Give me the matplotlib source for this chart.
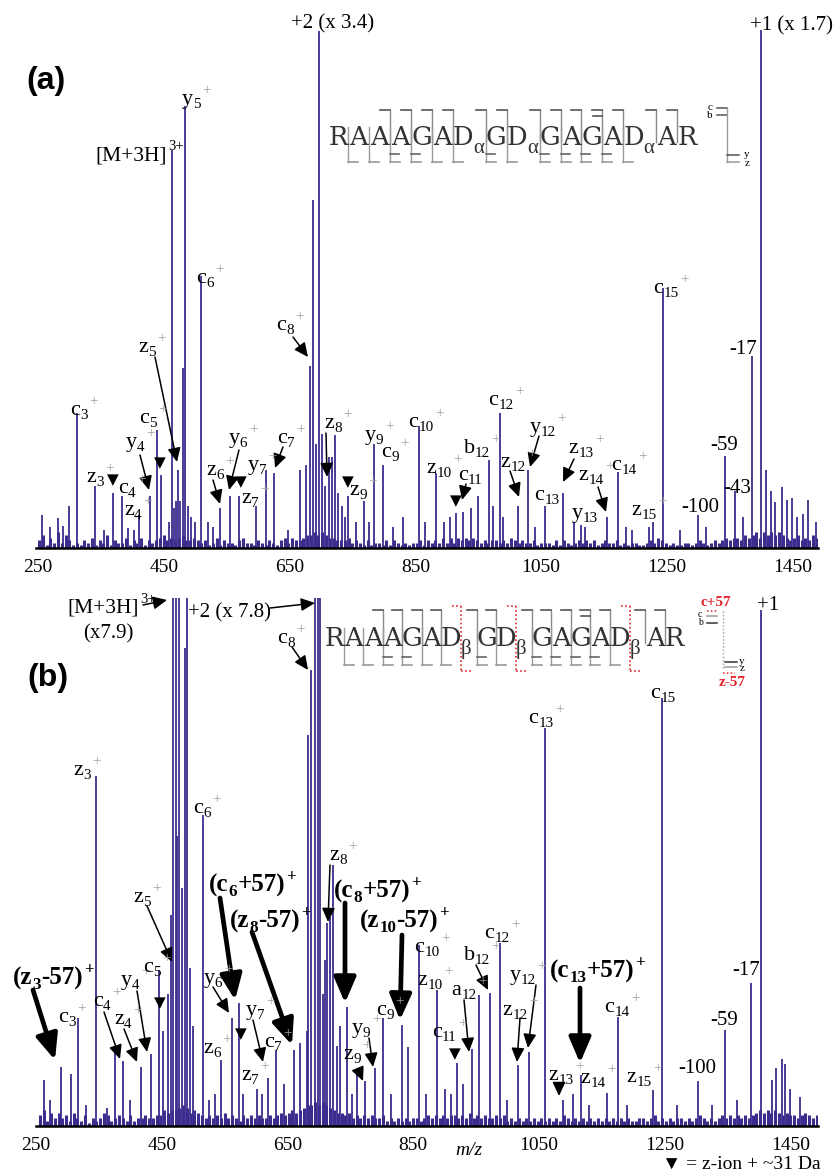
import numpy as np
import matplotlib
matplotlib.use('Agg')
import matplotlib.pyplot as plt
from matplotlib.lines import Line2D
from matplotlib.patches import FancyArrowPatch

plt.rcParams['font.family'] = ['Liberation Serif', 'DejaVu Sans']

W, H = 835, 1172
SPEC = '#3b2d8e'   # spectrum colour
PLUS = '#a0a0a0'   # grey charge sign
SEQ = '#333333'
RED = '#e0262b'

# ---------------- data ----------------
# peak m/z and height (100 = top of panel)
MZ_A = [256, 270, 282, 290, 299, 312, 340, 355, 369, 383, 394, 402, 411, 428, 440, 446,
        459, 463, 466, 469, 472, 476, 480, 484, 488, 494, 500, 510, 520, 528, 539, 555,
        570, 596, 612, 626, 648, 667, 676, 682, 688, 692, 697, 702, 707, 713, 718, 722,
        727, 733, 738, 743, 755, 768, 776, 784, 798, 815, 830, 855, 866, 883, 896, 905,
        915, 926, 938, 949, 967, 973, 984, 990, 1013.6, 1029.5, 1040, 1056, 1085, 1102,
        1113, 1120, 1154, 1172.6, 1185, 1195, 1222, 1228, 1243, 1270, 1300, 1312, 1342,
        1358, 1370, 1384.6, 1400, 1407, 1416, 1421, 1432, 1440, 1448, 1456, 1466, 1474, 1487]
INT_A = [6.4, 4.1, 5.7, 4.3, 8.0, 26, 12, 3.5, 10.6, 10, 3.8, 3.5, 6.4, 10, 22.7, 14,
         5, 76.5, 7.7, 9, 15, 9, 34.7, 85, 8, 6, 5, 52.3, 5, 4, 7.7, 10,
         10, 8, 15, 14.5, 3.5, 15, 16, 35, 67, 20, 99.5, 22, 12, 17.5, 17.5, 21.7,
         10.6, 8, 6, 10, 5, 9, 5, 20, 16, 4, 6, 23.4, 5, 14.5, 5, 6,
         6.7, 7, 7.7, 10, 17, 8, 26, 6, 8, 15, 4, 8, 10.6, 5,
         4.5, 4, 6, 14.7, 4, 3.5, 4, 5, 50, 3.5, 6.4, 4, 17.6,
         11, 6, 37, 99.7, 15, 10.9, 8.9, 11.8, 9.3, 9.6, 6, 6.6, 9.3, 5]

MZ_B = [263, 272, 290, 305, 317.6, 330, 346, 362.5, 376, 389, 400, 417, 433, 445, 452,
        460, 464, 468, 472, 475, 478, 482, 487, 491, 495, 500, 515, 525, 535, 544.8, 561, 573, 580,
        602, 610, 619, 631, 645, 661, 670, 681, 683, 687, 694, 698.5, 702, 706, 710, 713, 718, 723, 729, 734,
        744.5, 752, 760, 773.5, 789, 802.6, 815, 831.6, 842, 859, 870, 888, 900, 910, 920, 930, 943.6, 954, 971.6, 988.5,
        1000, 1017.5, 1034, 1060, 1089, 1104, 1117, 1130, 1159, 1176.6, 1190, 1232, 1246, 1270, 1303, 1325, 1345.5, 1365, 1388, 1404,
        1420.6, 1427, 1436.5, 1442, 1450, 1466]
INT_B = [8.7, 5, 11.2, 9.8, 20.4, 4, 66.2, 3.4, 13.8, 12.3, 5, 11.2, 13.6, 29.5, 18,
         25, 40, 130, 130, 55, 130, 45, 90.5, 130, 30, 19, 58.9, 5, 6, 12.5, 20.4, 23.3, 6,
         7, 6, 9, 14.4, 8, 14.4, 15.8, 18, 74, 86.4, 130, 130, 130, 25, 31.4, 38.4, 39.6, 49.4, 15.2, 19,
         22.6, 6, 10, 8.6, 11, 20.5, 6, 19.2, 15, 34.3, 6, 25.8, 7, 6, 11.9, 8, 14.6, 24.8, 25.1, 34.6,
         5, 11.5, 14, 75.4, 5, 6, 9.6, 4, 6.2, 20.7, 4, 6.8, 81, 4, 8.5, 4, 18.2, 5, 27, 97.7,
         8.7, 10.9, 12.6, 11.7, 7, 5.5]

# noise floor: one digit per 6 m/z, height = digit * 0.5
NOISE_STEP = 6
NOISE_A_START = 252
NOISE_A = ("3514262531" "2132413251" "3224132413" "2345343453" "3432312413"
           "2213422132" "1321342433" "4556565443" "3342321312" "2131321212"
           "2313232424" "2434343232" "3323243232" "2312221313" "2123232312"
           "3223121221" "1232432121" "1221232123" "2343443545" "6465656543" "4534354")
NOISE_B_START = 256
NOISE_B = ("4625353425" "3241323542" "3432423343" "3446566787" "5654343435"
           "3432434343" "3434545656" "7889898765" "5453434343" "3423232323"
           "3234343434" "4343534343" "3434232323" "2323232324" "3232323232"
           "3232323223" "3234232323" "3232343232" "3434343434" "5656565454" "4345434")

TICKS = [250, 450, 650, 850, 1050, 1250, 1450]
RESIDUES = ['R', 'A', 'A', 'A', 'G', 'A', 'D', 'G', 'D', 'G', 'A', 'G', 'A', 'D', 'A', 'R']
MODIFIED = [6, 8, 13]          # the three Asp residues (alpha / beta)
C_GAPS = list(range(2, 15))    # c3 .. c15
B_GAPS = [11]                  # b12
Z_GAPS = list(range(0, 13))    # z15 .. z3
Y_GAPS = [2, 3, 6, 8, 9, 10, 11]

# ion labels: (letter, number, centre x, baseline y, grey +)
ION_A = [('y', '5', 191, 104, 1), ('c', '6', 205, 283, 1), ('c', '15', 666, 293, 1),
         ('c', '8', 285, 330, 1), ('z', '5', 147, 352, 1), ('c', '3', 79, 415, 1),
         ('z', '3', 95, 482, 1), ('c', '4', 127, 493, 1), ('z', '4', 133, 515, 1),
         ('y', '4', 135, 447, 1), ('c', '5', 148, 423, 1), ('z', '6', 215, 475, 1),
         ('y', '6', 238, 443, 1), ('z', '7', 250, 503, 1), ('y', '7', 257, 470, 1),
         ('c', '7', 286, 443, 1), ('z', '8', 333, 428, 1), ('z', '9', 358, 495, 1),
         ('y', '9', 374, 440, 1), ('c', '9', 390, 457, 1), ('c', '10', 421, 427, 1),
         ('z', '10', 439, 473, 1), ('c', '11', 470, 480, 0), ('b', '12', 477, 453, 1),
         ('c', '12', 501, 405, 1), ('z', '12', 513, 467, 1), ('y', '12', 543, 432, 1),
         ('c', '13', 547, 500, 0), ('z', '13', 581, 453, 1), ('y', '13', 585, 518, 0),
         ('z', '14', 591, 480, 1), ('c', '14', 624, 470, 1), ('z', '15', 644, 515, 1)]
ARROWS_A = [(293, 337, 308, 357), (155, 357, 177, 462), (140, 455, 149, 490),
            (213, 480, 220, 504), (239, 450, 229, 490), (283, 447, 275, 468),
            (326, 433, 327, 477), (466, 484, 462, 500), (510, 471, 519, 497),
            (539, 436, 530, 467), (574, 459, 563, 482), (598, 487, 606, 512)]
TRI_A = [(113, 480), (160, 463), (241, 482), (348, 482), (456, 501)]
TEXT_A = [('+2 (x 3.4)', 333, 28), ('+1 (x 1.7)', 791, 30), ('-17', 743, 354),
          ('-59', 724, 450), ('-43', 737, 493), ('-100', 700, 512)]

ION_B = [('z', '3', 82, 775, 1), ('c', '6', 202, 813, 1), ('c', '8', 286, 643, 1),
         ('z', '8', 338, 860, 1), ('z', '5', 142, 902, 1), ('c', '3', 67, 1022, 1),
         ('c', '4', 102, 1006, 1), ('z', '4', 123, 1024, 1), ('y', '4', 130, 985, 1),
         ('c', '5', 152, 972, 1), ('y', '6', 213, 983, 1), ('z', '6', 212, 1053, 1),
         ('y', '7', 255, 1015, 1), ('z', '7', 250, 1080, 1), ('c', '7', 273, 1047, 1),
         ('y', '9', 361, 1033, 1), ('z', '9', 352, 1059, 1), ('c', '9', 385, 1015, 1),
         ('c', '10', 427, 952, 1), ('z', '10', 430, 985, 1), ('c', '11', 444, 1037, 1),
         ('a', '12', 464, 995, 1), ('b', '12', 477, 960, 1), ('c', '12', 497, 938, 1),
         ('y', '12', 523, 980, 1), ('z', '12', 515, 1015, 1), ('c', '13', 541, 723, 1),
         ('c', '15', 663, 698, 0), ('z', '13', 561, 1080, 1), ('z', '14', 593, 1083, 1),
         ('c', '14', 617, 1012, 1), ('z', '15', 639, 1082, 1)]
BOLD_B = [('z', '3', '-57', 48, 985), ('c', '6', '+57', 247, 892), ('z', '8', '-57', 265, 928),
          ('c', '8', '+57', 372, 898), ('z', '10', '-57', 399, 928), ('c', '13', '+57', 592, 978)]
ARROWS_B = [(143, 605, 167, 600), (270, 608, 315, 603), (292, 647, 308, 670),
            (330, 865, 328, 922), (147, 906, 172, 962), (104, 1012, 120, 1059),
            (124, 1029, 137, 1062), (137, 991, 147, 1052), (213, 987, 229, 1013),
            (253, 1020, 263, 1062), (369, 1038, 373, 1067), (358, 1069, 363, 1081),
            (464, 1000, 469, 1052), (476, 965, 488, 990), (536, 985, 528, 1048),
            (520, 1018, 517, 1062), (559, 1083, 559, 1096)]
THICK_B = [(33, 990, 55, 1060), (220, 898, 235, 1000), (252, 932, 292, 1045),
           (345, 903, 345, 1003), (402, 935, 400, 1020), (580, 988, 580, 1063)]
TRI_B = [(160, 1003), (241, 1034), (455, 1054)]
TEXT_B = [('(x7.9)', 108, 638), ('+1', 768, 610), ('-17', 746, 975),
          ('-59', 724, 1025), ('-100', 697, 1073)]

# ---------------- figure ----------------
fig = plt.figure(figsize=(W / 100, H / 100), dpi=100)
renderer = fig.canvas.get_renderer()


def fx(x):
    return x / W


def fy(y):
    return 1 - y / H


def line(xs, ys, **kw):
    fig.add_artist(Line2D([fx(x) for x in xs], [fy(y) for y in ys], **kw))


def rich(cx, y, pieces, size=16, weight='normal'):
    # pieces: (text, kind, colour); kind 0 normal, -1 subscript, 1 superscript
    pxs = size * 100 / 72
    made = []
    for s, kind, col in pieces:
        fs = size if kind == 0 else size * 0.68
        t = fig.text(0, 0, s, fontsize=fs, fontweight=weight, color=col,
                     ha='left', va='baseline')
        made.append((t, kind, t.get_window_extent(renderer).width))
    core = sum(w for t, kind, w in made if kind != 1)
    x = cx - core / 2
    for t, kind, w in made:
        dy = {0: 0, -1: -0.17 * pxs, 1: 0.45 * pxs}[kind]
        if kind == 1:
            x += 1.5
        t.set_position((fx(x), fy(y - dy)))
        x += w


def ion(name, sub, cx, y, plus):
    pieces = [(name, 0, 'k'), (sub, -1, 'k')]
    if plus:
        pieces.append(('+', 1, PLUS))
    rich(cx, y, pieces)


def arrow(x1, y1, x2, y2, thick=False):
    if thick:
        st, ms, lw = '-|>,head_length=0.7,head_width=0.3', 22, 3.4
    else:
        st, ms, lw = '-|>,head_length=0.6,head_width=0.28', 14, 1.1
    fig.add_artist(FancyArrowPatch((fx(x1), fy(y1)), (fx(x2), fy(y2)),
                                   transform=fig.transFigure, arrowstyle=st,
                                   mutation_scale=ms, lw=lw, color='k',
                                   shrinkA=0, shrinkB=0))


def tri(x, y):
    fig.text(fx(x), fy(y), '\u25BC', family='DejaVu Sans', fontsize=11,
             ha='center', va='center', color='k')


def spectrum(ax, mz, inten, nstart, noise, xlim):
    nz = np.array([int(d) for d in noise]) * 0.5
    nmz = nstart + NOISE_STEP * np.arange(len(nz))
    ax.vlines(nmz, 0, nz, color=SPEC, lw=2.2)
    ax.vlines(mz, 0, inten, color=SPEC, lw=1.3)
    ax.set_xlim(*xlim)
    ax.set_ylim(0, 100)
    for s in ['top', 'right', 'left']:
        ax.spines[s].set_visible(False)
    ax.spines['bottom'].set_linewidth(1.8)
    ax.set_yticks([])
    ax.set_xticks(TICKS)
    ax.tick_params(axis='x', length=0, pad=8, labelsize=14)
    ax.patch.set_alpha(0)


def sequence(x0, pitch, sub_adv, base, top, bot, sub_char, red=False):
    centers = [x0]
    for i in range(len(RESIDUES) - 1):
        centers.append(centers[-1] + pitch + (sub_adv if i in MODIFIED else 0))
    for i, (r, cx) in enumerate(zip(RESIDUES, centers)):
        fig.text(fx(cx), fy(base), r, family='DejaVu Serif', fontsize=18.5,
                 color=SEQ, ha='center', va='baseline')
        if i in MODIFIED:
            fig.text(fx(cx + 10), fy(base + 8), sub_char, fontsize=15, color=SEQ,
                     ha='left', va='baseline')
    for g in range(len(RESIDUES) - 1):
        gx = centers[g + 1] - pitch / 2
        if g in C_GAPS:
            line([gx, gx], [top, base - 3], color='#8a8a8a', lw=1.0)
            line([gx - 10, gx], [top, top], color='#555555', lw=1.2)
        if g in B_GAPS:
            line([gx - 9, gx], [top + 6, top + 6], color='#555555', lw=1.2)
        if g in Z_GAPS:
            line([gx, gx], [base - 18, bot], color='#9a9a9a', lw=1.0)
            line([gx, gx + 10], [bot, bot], color='#9a9a9a', lw=1.2)
        if g in Y_GAPS:
            line([gx, gx + 9], [bot - 8, bot - 8], color='#666666', lw=1.2)
        if red and g in MODIFIED:
            rx = centers[g] + 10
            kw = dict(color=RED, lw=1.2, ls=(0, (1, 1.5)))
            line([rx, rx], [top - 4, bot + 6], **kw)
            line([rx - 9, rx], [top - 4, top - 4], **kw)
            line([rx, rx + 12], [bot + 6, bot + 6], **kw)


ax_a = fig.add_axes([fx(36), fy(548), (818 - 36) / W, (548 - 28) / H])
ax_b = fig.add_axes([fx(36), fy(1126), (818 - 36) / W, (1126 - 598) / H])
spectrum(ax_a, MZ_A, INT_A, NOISE_A_START, NOISE_A, (247, 1490))
spectrum(ax_b, MZ_B, INT_B, NOISE_B_START, NOISE_B, (255, 1494))

# panel letters
fig.text(fx(46), fy(81), '(a)', family='Liberation Sans', fontweight='bold',
         fontsize=23, ha='center', va='center')
fig.text(fx(48), fy(678), '(b)', family='Liberation Sans', fontweight='bold',
         fontsize=23, ha='center', va='center')

# ---- panel (a) annotations
for n, s, x, y, p in ION_A:
    ion(n, s, x, y, p)
for a in ARROWS_A:
    arrow(*a)
for t in TRI_A:
    tri(*t)
for s, x, y in TEXT_A:
    fig.text(fx(x), fy(y), s, fontsize=15, ha='center', va='baseline')
rich(131, 160, [('[M+3H]', 0, 'k'), ('3+', 1, 'k')], size=15.5)

sequence(338, 20.9, 12, 145, 110, 162, '\u03b1')
# key for the fragment brackets
fig.text(fx(710), fy(110), 'c', fontsize=8, ha='center', va='baseline')
fig.text(fx(710), fy(118), 'b', fontsize=8, ha='center', va='baseline')
line([717, 727], [108, 108], color='#555555', lw=1.1)
line([717, 727], [115, 115], color='#555555', lw=1.1)
line([727, 727], [108, 162], color='#9a9a9a', lw=1.0)
line([727, 739], [155, 155], color='#555555', lw=1.1)
line([727, 739], [162, 162], color='#9a9a9a', lw=1.1)
fig.text(fx(747), fy(157), 'y', fontsize=8, ha='center', va='baseline')
fig.text(fx(747), fy(166), 'z', fontsize=8, ha='center', va='baseline')

# ---- panel (b) annotations
for n, s, x, y, p in ION_B:
    ion(n, s, x, y, p)
for n, s, tail, x, y in BOLD_B:
    rich(x, y, [('(' + n, 0, 'k'), (s, -1, 'k'), (tail + ')', 0, 'k'), ('+', 1, 'k')],
         size=18, weight='bold')
for a in ARROWS_B:
    arrow(*a)
for a in THICK_B:
    arrow(*a, thick=True)
for t in TRI_B:
    tri(*t)
for s, x, y in TEXT_B:
    fig.text(fx(x), fy(y), s, fontsize=15, ha='center', va='baseline')
rich(103, 613, [('[M+3H]', 0, 'k'), ('3+', 1, 'k')], size=15.5)
fig.text(fx(230), fy(617), '+2 (x 7.8)', fontsize=15, ha='center', va='baseline')

sequence(334, 19.5, 16, 646, 610, 665, '\u03b2', red=True)
fig.text(fx(716), fy(606), 'c+57', fontsize=11, fontweight='bold', color=RED,
         ha='center', va='baseline')
fig.text(fx(700), fy(617), 'c', fontsize=7, ha='center', va='baseline')
fig.text(fx(700), fy(625), 'b', fontsize=7, ha='center', va='baseline')
line([707, 717], [611, 611], color=RED, lw=1.1, ls=(0, (1, 1.5)))
line([707, 717], [616, 616], color='#9a9a9a', lw=1.1)
line([707, 717], [623, 623], color='#333333', lw=1.1)
line([723, 723], [611, 670], color='#9a9a9a', lw=1.0, ls=(0, (1, 1.5)))
line([725, 737], [662, 662], color='#333333', lw=1.1)
line([725, 737], [667, 667], color='#9a9a9a', lw=1.1)
line([723, 735], [673, 673], color=RED, lw=1.1, ls=(0, (1, 1.5)))
fig.text(fx(742), fy(664), 'y', fontsize=8, ha='center', va='baseline')
fig.text(fx(742), fy(671), 'z', fontsize=8, ha='center', va='baseline')
fig.text(fx(732), fy(686), 'z-57', fontsize=11, fontweight='bold', color=RED,
         ha='center', va='baseline')

fig.text(fx(469), fy(1155), 'm/z', fontsize=14, style='italic', ha='center', va='baseline')
fig.text(fx(662), fy(1169), '\u25BC = z-ion + ~31 Da', fontsize=14,
         family=['Liberation Serif', 'DejaVu Sans'], ha='left', va='baseline')

fig.savefig('out.png', dpi=100)
